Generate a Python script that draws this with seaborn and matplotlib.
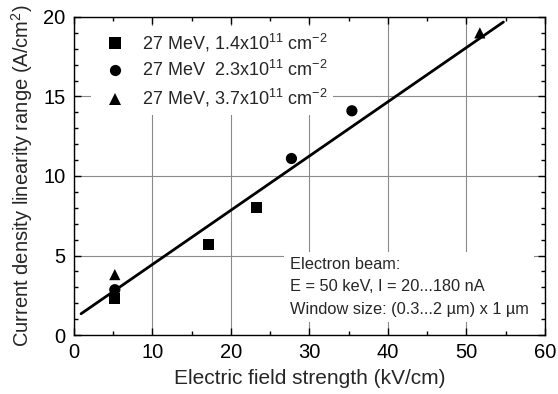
import numpy as np
import pandas as pd
import matplotlib
matplotlib.use("Agg")
import matplotlib.pyplot as plt
import seaborn as sns
from matplotlib.ticker import MultipleLocator

# Measured linearity range vs. electric field, grouped by irradiation fluence
field_14 = [5.2, 17.1, 23.2]
jlin_14 = [2.3, 5.7, 8.0]
field_23 = [5.2, 27.7, 35.4]
jlin_23 = [2.85, 11.1, 14.1]
field_37 = [5.2, 51.7]
jlin_37 = [3.8, 19.0]

labels = [
    r"27 MeV, 1.4x10$^{11}$ cm$^{-2}$",
    r"27 MeV  2.3x10$^{11}$ cm$^{-2}$",
    r"27 MeV, 3.7x10$^{11}$ cm$^{-2}$",
]

# Linear fit through all points
fit_slope = 0.341
fit_intercept = 1.03
fit_field = [0.9, 54.7]

x_ticks = [0, 10, 20, 30, 40, 50, 60]
y_ticks = [0, 5, 10, 15, 20]

sns.set_theme(style="ticks")
plt.rcParams["font.family"] = ["Liberation Sans", "DejaVu Sans"]
plt.rcParams["mathtext.fontset"] = "custom"
plt.rcParams["mathtext.rm"] = "Liberation Sans"
plt.rcParams["mathtext.it"] = "Liberation Sans:italic"
plt.rcParams["mathtext.bf"] = "Liberation Sans:bold"

df = pd.DataFrame({
    "field": field_14 + field_23 + field_37,
    "jlin": jlin_14 + jlin_23 + jlin_37,
    "group": [labels[0]] * len(field_14) + [labels[1]] * len(field_23) + [labels[2]] * len(field_37),
})
fit_df = pd.DataFrame({
    "field": fit_field,
    "jlin": [fit_intercept + fit_slope * v for v in fit_field],
})

fig = plt.figure(figsize=(5.58, 3.94), dpi=100)
ax = fig.add_axes([0.1326, 0.1497, 0.8441, 0.8072])

ax.grid(True, which="major", color="#8a8a8a", linewidth=0.8)
ax.set_axisbelow(True)

sns.lineplot(data=fit_df, x="field", y="jlin", color="black", linewidth=2.0,
             ax=ax, legend=False, zorder=3)
sns.scatterplot(data=df, x="field", y="jlin", style="group", hue="group",
                palette=["black"] * 3, markers=["s", "o", "^"],
                s=65, edgecolor="none", linewidth=0, ax=ax, zorder=4)

ax.set_xlim(0, 60)
ax.set_ylim(0, 20)
ax.set_xticks(x_ticks)
ax.set_yticks(y_ticks)
ax.xaxis.set_minor_locator(MultipleLocator(5))
ax.yaxis.set_minor_locator(MultipleLocator(1))
ax.tick_params(which="both", direction="in", top=True, right=True,
               colors="black", labelsize=14.5, width=1.0)
ax.tick_params(which="major", length=5)
ax.tick_params(axis="x", which="major", pad=6)
ax.tick_params(axis="y", which="major", pad=6)
ax.tick_params(which="minor", length=3)
for sp in ax.spines.values():
    sp.set_color("black")
    sp.set_linewidth(1.0)
    sp.set_visible(True)

ax.set_xlabel("Electric field strength (kV/cm)", fontsize=15, labelpad=5)
ax.set_ylabel("Current density linearity range (A/cm$^{2}$)", fontsize=14.5, labelpad=6)

leg = ax.legend(loc="upper left", bbox_to_anchor=(0.018, 1.0), frameon=True,
                fontsize=13, handletextpad=0.5, labelspacing=0.38,
                borderpad=0.3, markerscale=1.0)
leg.get_frame().set_edgecolor("none")
leg.get_frame().set_facecolor("white")
leg.get_frame().set_alpha(1.0)
leg.set_zorder(5)

ax.text(0.458, 0.151,
        "Electron beam:\nE = 50 keV, I = 20...180 nA\nWindow size: (0.3...2 \u00b5m) x 1 \u00b5m",
        transform=ax.transAxes, fontsize=11.8, linespacing=1.6, va="center", ha="left",
        bbox=dict(facecolor="white", edgecolor="none", pad=4), zorder=5)

fig.savefig("out.png", dpi=100)
